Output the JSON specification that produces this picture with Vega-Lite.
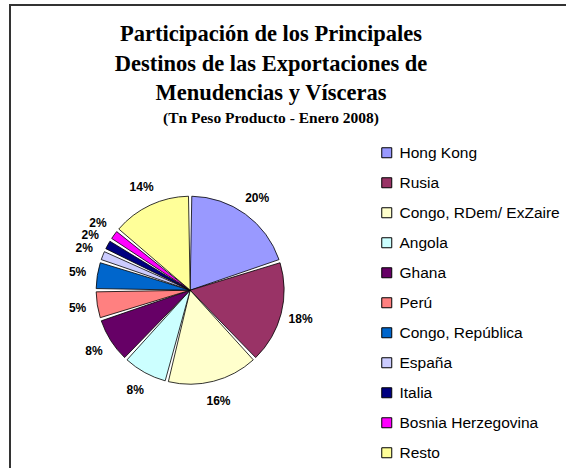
{
  "$schema": "https://vega.github.io/schema/vega-lite/v6.json",
  "width": 556,
  "height": 463,
  "autosize": "none",
  "padding": {"left": 10, "top": 5, "right": 0, "bottom": 0},
  "background": "white",
  "view": {"stroke": "#333333", "strokeWidth": 2, "strokeDash": [556, 1019, 463]},
  "title": {
    "text": ["Participación de los Principales", "Destinos de las Exportaciones de", "Menudencias y Vísceras"],
    "subtitle": "(Tn Peso Producto - Enero 2008)",
    "font": "Liberation Serif",
    "fontSize": 22.5,
    "fontWeight": "bold",
    "lineHeight": 29.5,
    "color": "black",
    "subtitleFont": "Liberation Serif",
    "subtitleFontSize": 15.5,
    "subtitleFontWeight": "bold",
    "subtitleColor": "black",
    "subtitlePadding": 6,
    "anchor": "middle",
    "frame": "group",
    "dx": -17,
    "offset": -121
  },
  "data": {
    "values": [
      {"idx": 1, "name": "Hong Kong", "value": 0.20},
      {"idx": 2, "name": "Rusia", "value": 0.18},
      {"idx": 3, "name": "Congo, RDem/ ExZaire", "value": 0.16},
      {"idx": 4, "name": "Angola", "value": 0.08},
      {"idx": 5, "name": "Ghana", "value": 0.08},
      {"idx": 6, "name": "Perú", "value": 0.05},
      {"idx": 7, "name": "Congo, República", "value": 0.05},
      {"idx": 8, "name": "España", "value": 0.02},
      {"idx": 9, "name": "Italia", "value": 0.02},
      {"idx": 10, "name": "Bosnia Herzegovina", "value": 0.02},
      {"idx": 11, "name": "Resto", "value": 0.14}
    ]
  },
  "layer": [
    {
      "mark": {
        "type": "arc",
        "outerRadius": 94,
        "padAngle": 0.035,
        "stroke": "black",
        "strokeWidth": 0.8,
        "x": {"expr": "width*0.324"},
        "y": {"expr": "height*0.616"}
      },
      "encoding": {
        "theta": {"field": "value", "type": "quantitative", "stack": true},
        "order": {"field": "idx", "type": "quantitative"},
        "color": {
          "field": "name",
          "type": "nominal",
          "scale": {
            "domain": ["Hong Kong", "Rusia", "Congo, RDem/ ExZaire", "Angola", "Ghana", "Perú", "Congo, República", "España", "Italia", "Bosnia Herzegovina", "Resto"],
            "range": ["#9999FF", "#993366", "#FFFFCC", "#CCFFFF", "#660066", "#FF8080", "#0066CC", "#CCCCFF", "#000080", "#FF00FF", "#FFFF99"]
          },
          "legend": {
            "orient": "none",
            "legendX": 369,
            "legendY": 140,
            "title": null,
            "padding": 0,
            "symbolType": "square",
            "symbolSize": 100,
            "symbolStrokeColor": "black",
            "symbolStrokeWidth": 1,
            "labelFont": "Liberation Sans",
            "labelFontSize": 15.5,
            "labelColor": "black",
            "labelOffset": 5,
            "labelLimit": 300,
            "rowPadding": 13
          }
        }
      }
    },
    {
      "mark": {
        "type": "text",
        "radius": 114,
        "font": "Liberation Sans",
        "fontSize": 12,
        "fontWeight": "bold",
        "color": "black",
        "x": {"expr": "width*0.324"},
        "y": {"expr": "height*0.616"}
      },
      "encoding": {
        "theta": {"field": "value", "type": "quantitative", "stack": true},
        "order": {"field": "idx", "type": "quantitative"},
        "text": {"field": "value", "type": "quantitative", "format": ".0%"}
      }
    }
  ]
}
